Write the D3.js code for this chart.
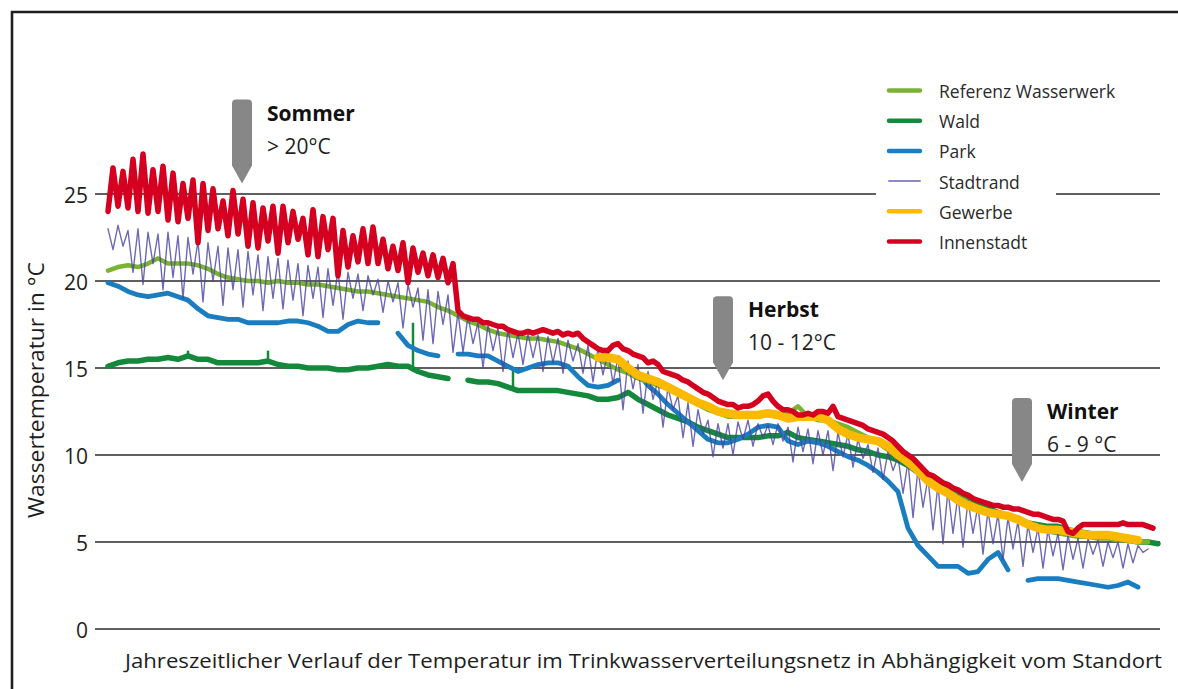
<!DOCTYPE html>
<html>
<head>
<meta charset="utf-8">
<script src="https://cdn.jsdelivr.net/npm/d3@7"></script>
<style>
  body { margin: 0; background: #fff; }
  svg { display: block; font-family: "Open Sans", "Noto Sans", sans-serif; }
</style>
</head>
<body>
<svg width="1178" height="689"></svg>
<script>
// y-Achse
const yTicks = [0, 5, 10, 15, 20, 25];

// Messreihen: x in Messtagen (0..211), Werte in °C, null = Lücke
// glatte Reihen: alle 2 Tage ab Tag 0
const referenz = [20.6, 20.8, 20.9, 20.8, 21.0, 21.3, 21.0, 21.0, 21.0, 20.9, 20.7, 20.4, 20.2, 20.1, 20.0, 20.0, 19.9, 20.0, 19.9, 19.9,
  19.8, 19.8, 19.7, 19.6, 19.5, 19.4, 19.4, 19.3, 19.2, 19.1, 19.0, 18.9, 18.8, 18.5, 18.3, 18.0, 17.7, 17.5, 17.2, 17.0,
  16.9, 16.8, 16.7, 16.7, 16.6, 16.5, 16.3, 16.1, 15.8, 15.5, 15.2, 14.9, 14.7, 14.4, 14.2, 14.0, 13.8, 13.5, 13.2, 12.9,
  12.6, 12.4, 12.2, 12.2, 12.3, 12.4, 12.3, 12.2, 12.4, 12.8, 12.2, 12.0, 12.0, 11.8, 11.6, 11.3, 11.0, 10.7, 10.3, 9.9,
  9.5, 9.0, 8.5, 8.2, 7.9, 7.6, 7.3, 7.0, 6.8, 6.6, 6.4, 6.2, 6.0, 5.8, 5.6, 5.5, 5.4, 5.3, 5.3, 5.2,
  5.2, 5.1, 5.1, 5.0, 5.0];

const wald = [15.1, 15.3, 15.4, 15.4, 15.5, 15.5, 15.6, 15.5, 15.7, 15.5, 15.5, 15.3, 15.3, 15.3, 15.3, 15.3, 15.4, 15.2, 15.1, 15.1,
  15.0, 15.0, 15.0, 14.9, 14.9, 15.0, 15.0, 15.1, 15.2, 15.1, 15.1, 14.8, 14.6, 14.5, 14.4, null, 14.3, 14.2, 14.2, 14.1,
  13.9, 13.7, 13.7, 13.7, 13.7, 13.7, 13.6, 13.5, 13.4, 13.2, 13.2, 13.3, 13.6, 13.2, 12.9, 12.6, 12.3, 12.1, 11.9, 11.6,
  11.4, 11.2, 11.0, 11.0, 11.0, 11.0, 11.1, 11.1, 11.3, 11.0, 10.9, 10.8, 10.7, 10.6, 10.5, 10.3, 10.2, 10.0, 9.9, 9.7,
  9.4, 9.0, 8.6, 8.3, 8.0, 7.7, 7.4, 7.1, 6.9, 6.7, 6.5, 6.3, 6.1, 6.0, 5.9, 5.9, 5.7, 5.6, 5.5, 5.4,
  5.3, 5.2, 5.1, 5.0, 5.0, 4.9];
// einzelne Ausreißer der Reihe Wald: [Tag, °C]
const waldSpitzen = [[16, 16.0], [32, 16.0], [61, 17.6], [81, 14.9]];

const park = [19.9, 19.7, 19.4, 19.2, 19.1, 19.2, 19.3, 19.1, 18.9, 18.4, 18.0, 17.9, 17.8, 17.8, 17.6, 17.6, 17.6, 17.6, 17.7, 17.7,
  17.6, 17.4, 17.1, 17.1, 17.5, 17.7, 17.6, 17.6, null, 17.0, 16.3, 16.0, 15.8, 15.7, null, 15.8, 15.8, 15.7, 15.7, 15.4,
  15.1, 14.8, 15.0, 15.2, 15.3, 15.3, 15.1, 14.5, 14.0, 13.9, 14.0, 14.3, null, 14.7, 14.0, 13.5, 12.9, 12.4, 11.9, 11.4,
  10.9, 10.7, 10.7, 10.9, 11.2, 11.6, 11.7, 11.6, 10.8, 10.6, 10.8, 10.7, 10.5, 10.2, 9.9, 9.7, 9.4, 9.0, 8.5, 7.9,
  5.8, 4.8, 4.2, 3.6, 3.6, 3.6, 3.2, 3.3, 4.0, 4.4, 3.4, null, 2.8, 2.9, 2.9, 2.9, 2.8, 2.7, 2.6, 2.5,
  2.4, 2.5, 2.7, 2.4];

// Gewerbe: alle 2 Tage ab Tag 98
const gewerbe = [15.6, 15.6, 15.5, 15.0, 14.6, 14.4, 14.2, 13.9, 13.6, 13.3, 13.0, 12.8, 12.5, 12.4, 12.3, 12.3, 12.3, 12.4, 12.3, 12.1,
  12.2, 12.2, 12.2, 12.0, 11.5, 11.2, 11.0, 10.9, 10.8, 10.5, 10.0, 9.6, 9.1, 8.5, 8.1, 7.8, 7.4, 7.1, 6.9, 6.7,
  6.6, 6.5, 6.3, 6.0, 5.8, 5.7, 5.7, 5.6, 5.5, 5.4, 5.4, 5.4, 5.3, 5.2, 5.1];

// unruhige Reihen: jeden Tag ab Tag 0
const stadtrand = [23.0, 21.8, 23.2, 22.0, 22.9,
  20.5, 23.0, 19.8, 22.8, 21.0, 22.7, 19.5,
  22.8, 20.2, 22.6, 19.0, 22.5, 20.4, 22.3,
  18.8, 22.2, 20.0, 22.0, 18.6, 21.9, 19.5, 21.8, 18.5, 21.7,
  19.2, 21.5, 18.3, 21.4, 19.0, 21.3, 18.4, 21.2, 18.9, 21.0,
  18.0, 20.9, 19.0, 20.8, 17.9, 20.7, 18.6, 20.6, 17.8, 20.5,
  19.0, 20.4, 18.3, 20.3, 19.2, 20.1,
  18.2, 20.0, 18.8, 19.9, 17.3, 19.8, 18.5, 19.6, 16.6, 19.5, 16.4, 19.4, 17.5, 19.2,
  15.9, 18.2, 15.9, 18.0,
  16.4, 17.6, 15.0, 17.5, 16.0, 17.3, 14.8, 17.2, 15.6, 17.0,
  15.2, 17.0, 15.6, 16.9, 14.8, 16.8, 15.3, 16.7, 14.7, 16.6, 15.4,
  16.4, 14.7, 16.3, 14.2, 16.1, 14.6, 16.0,
  14.1, 15.6, 12.6, 15.4, 13.8, 15.2, 12.4, 14.8,
  13.2, 14.3, 11.6, 13.9, 12.6, 13.4, 11.0, 13.0, 10.5, 12.6,
  11.2, 12.0, 9.9, 11.8, 10.4, 11.8, 10.0, 11.9,
  10.9, 12.0, 10.5, 11.8, 11.0, 11.7, 10.6, 11.8, 10.8, 11.6,
  9.6, 11.6, 10.2, 11.5, 9.5, 11.4, 10.0,
  11.4, 9.1, 11.3, 9.9, 11.2, 9.3, 10.9, 9.8, 10.6,
  9.0, 10.4, 8.6, 10.2, 9.1, 9.9, 7.8,
  9.6, 6.4, 9.2, 7.0, 8.7, 5.7, 8.3, 4.9, 8.0,
  5.5, 7.7, 4.7, 7.4, 5.5, 7.1, 4.3, 6.8, 4.9, 6.6,
  4.0, 6.4, 4.6, 6.2, 3.6, 6.0, 4.4, 5.8, 3.5, 5.7,
  4.2, 5.5, 3.4, 5.4, 4.0, 5.2, 3.5, 5.2, 4.3, 5.1,
  3.6, 5.0, 4.1, 5.0, 3.5, 4.9, 3.8, 4.8, 4.4, 4.6];

const innenstadt = [24.0, 26.5, 24.3, 26.3, 24.2, 27.0, 24.0, 27.3, 23.9, 26.4,
  24.0, 26.6, 23.5, 26.2, 23.4, 25.6, 23.6, 25.8, 22.2, 25.6,
  22.9, 25.3, 23.0, 24.6, 22.6, 25.2, 22.7, 24.7, 22.0, 24.5,
  21.9, 24.2, 22.3, 24.3, 21.6, 24.3, 22.2, 24.0, 22.4, 23.6,
  21.5, 24.1, 21.4, 23.7, 21.8, 23.6, 20.3, 22.9, 20.8, 22.6,
  21.1, 23.0, 21.0, 23.1, 21.0, 22.4, 20.7, 22.0, 20.6, 22.2,
  19.9, 21.9, 20.5, 21.6, 20.3, 21.5, 20.2, 21.3, 19.9, 21.0,
  18.3, 18.0, 17.9, 17.8, 17.8, 17.6, 17.6, 17.5, 17.4, 17.4,
  17.2, 17.1, 17.0, 17.0, 17.1, 17.0, 17.1, 17.2, 17.1, 17.0,
  17.1, 16.9, 17.0, 16.9, 17.0, 16.7, 16.5, 16.3, 16.1, 16.0,
  16.0, 16.3, 16.4, 16.1, 16.0, 15.8, 15.7, 15.6, 15.3, 15.4,
  15.2, 14.8, 14.7, 14.6, 14.5, 14.3, 14.2, 14.0, 13.8, 13.6,
  13.5, 13.3, 13.1, 13.0, 12.9, 12.9, 12.7, 12.8, 12.8, 12.9,
  13.1, 13.4, 13.5, 13.1, 12.8, 12.6, 12.6, 12.5, 12.3, 12.3,
  12.4, 12.3, 12.5, 12.5, 12.4, 12.8, 12.2, 12.1, 12.0, 11.9,
  11.8, 11.7, 11.5, 11.4, 11.3, 11.2, 11.0, 10.8, 10.5, 10.2,
  10.0, 9.8, 9.5, 9.2, 8.9, 8.8, 8.6, 8.4, 8.3, 8.1,
  8.0, 7.8, 7.7, 7.5, 7.4, 7.3, 7.2, 7.1, 7.1, 7.0,
  7.0, 6.9, 6.9, 6.8, 6.7, 6.6, 6.6, 6.5, 6.4, 6.3,
  6.3, 6.2, 5.6, 5.5, 5.8, 6.0, 6.0, 6.0, 6.0, 6.0,
  6.0, 6.0, 6.0, 6.1, 6.0, 6.0, 6.0, 6.0, 5.9, 5.8];

// Jahreszeiten-Markierungen
const saisonNamen = ["Sommer", "Herbst", "Winter"];
const saisonBereich = ["> 20°C", "10 - 12°C", "6 - 9 °C"];
const saisonTag = [26.8, 123, 182.8];
const saisonTemp = [25.6, 14.3, 8.45];

const legendNamen = ["Referenz Wasserwerk", "Wald", "Park", "Stadtrand", "Gewerbe", "Innenstadt"];

let svg = d3.select("svg");

var x = d3.scaleLinear().domain([0, 211]).range([108, 1163]);
var y = d3.scaleLinear().domain([0, 25]).range([629, 194]);

function punkte(start, step, werte) {
    return werte.map(function(v, i) { return {t: start + i * step, v: v}; });
}

// Rahmen
svg.append("path")
    .attr("d", "M12,689V12H1178")
    .attr("fill", "none")
    .attr("stroke", "#1e1e1e")
    .attr("stroke-width", 2.6)

// Gitterlinien + Beschriftung
svg.selectAll("line.grid")
    .data(yTicks)
    .enter()
    .append("line")
    .attr("class", "grid")
    .attr("x1", 95)
    .attr("x2", 1160)
    .attr("y1", function(d) { return y(d); })
    .attr("y2", function(d) { return y(d); })
    .attr("stroke", "#2a2a2a")
    .attr("stroke-width", 1.4)

svg.selectAll("text.tick")
    .data(yTicks)
    .enter()
    .append("text")
    .attr("class", "tick")
    .attr("x", 88)
    .attr("y", function(d) { return y(d) + 1; })
    .attr("text-anchor", "end")
    .attr("dominant-baseline", "central")
    .style("font-size", "21px")
    .attr("fill", "#1e1e1e")
    .text(function(d) { return d; })

svg.append("text")
    .attr("transform", "translate(44,390) rotate(-90)")
    .attr("text-anchor", "middle")
    .attr("textLength", 256)
    .attr("lengthAdjust", "spacingAndGlyphs")
    .style("font-size", "22px")
    .attr("fill", "#1e1e1e")
    .text("Wassertemperatur in °C")

svg.append("text")
    .attr("x", 125)
    .attr("y", 668)
    .attr("textLength", 1037)
    .attr("lengthAdjust", "spacingAndGlyphs")
    .style("font-size", "20px")
    .attr("fill", "#1e1e1e")
    .text("Jahreszeitlicher Verlauf der Temperatur im Trinkwasserverteilungsnetz in Abhängigkeit vom Standort")

// Legende (weißer Hintergrund unterbricht die 25er-Linie)
svg.append("rect")
    .attr("x", 876)
    .attr("y", 72)
    .attr("width", 180)
    .attr("height", 186)
    .attr("fill", "#fff")

var legendFarben = ["#7bb236", "#158a3c", "#1a7fc4", "#8e88c8", "#fbb900", "#d5001f"];
var legendBreite = [4.5, 4.5, 4.5, 2, 4.5, 4.5];

svg.selectAll("line.leg")
    .data(legendNamen)
    .enter()
    .append("line")
    .attr("class", "leg")
    .attr("x1", 889)
    .attr("x2", 920)
    .attr("y1", function(d, i) { return 90.5 + i * 30.2; })
    .attr("y2", function(d, i) { return 90.5 + i * 30.2; })
    .attr("stroke", function(d, i) { return legendFarben[i]; })
    .attr("stroke-width", function(d, i) { return legendBreite[i]; })
    .attr("stroke-linecap", "round")

svg.selectAll("text.leg")
    .data(legendNamen)
    .enter()
    .append("text")
    .attr("class", "leg")
    .attr("x", 939)
    .attr("y", function(d, i) { return 91 + i * 30.2; })
    .attr("dominant-baseline", "central")
    .style("font-size", "17.5px")
    .attr("fill", "#2a2a2a")
    .text(function(d) { return d; })

// Messreihen
var serien = [
    {name: "Wald", data: punkte(0, 2, wald), color: "#14893b", w: 5.5},
    {name: "Park", data: punkte(0, 2, park), color: "#1a7dc0", w: 4.8},
    {name: "Referenz Wasserwerk", data: punkte(0, 2, referenz), color: "#79b32f", w: 4.5},
    {name: "Stadtrand", data: punkte(0, 1, stadtrand), color: "#4a42a0", w: 1.4},
    {name: "Gewerbe", data: punkte(98, 2, gewerbe), color: "#fbb900", w: 8.5},
    {name: "Innenstadt", data: punkte(0, 1, innenstadt), color: "#d5001f", w: 5.5}
];

var line = d3.line()
    .defined(function(d) { return d.v != null; })
    .x(function(d) { return x(d.t); })
    .y(function(d) { return y(d.v); });

svg.selectAll("path.serie")
    .data(serien)
    .enter()
    .append("path")
    .attr("class", "serie")
    .attr("d", function(d) { return line(d.data); })
    .attr("fill", "none")
    .attr("stroke", function(d) { return d.color; })
    .attr("stroke-width", function(d) { return d.w; })
    .attr("stroke-opacity", function(d) { return d.name == "Stadtrand" ? 0.8 : 1; })
    .attr("stroke-linejoin", "round")
    .attr("stroke-linecap", "round")

// Wald-Ausreißer als senkrechte Striche
svg.selectAll("line.spitze")
    .data(waldSpitzen)
    .enter()
    .insert("line", "path.serie:nth-of-type(3)")
    .attr("class", "spitze")
    .attr("x1", function(d) { return x(d[0]); })
    .attr("x2", function(d) { return x(d[0]); })
    .attr("y1", function(d) { return y(d[1]); })
    .attr("y2", function(d) { return y(wald[Math.round(d[0] / 2)]); })
    .attr("stroke", "#14893b")
    .attr("stroke-width", 2.5)

// Jahreszeiten-Pfeile
var pfeil = svg.selectAll("g.saison")
    .data(saisonNamen)
    .enter()
    .append("g")
    .attr("class", "saison")
    .attr("transform", function(d, i) { return "translate(" + x(saisonTag[i]) + "," + y(saisonTemp[i]) + ")"; })

pfeil.append("path")
    .attr("d", "M-10,-18V-80Q-10,-84,-6,-84H6Q10,-84,10,-80V-18L0,0Z")
    .attr("fill", "#878787")

pfeil.append("text")
    .attr("x", 25)
    .attr("y", -63)
    .style("font-size", "21px")
    .style("font-weight", "bold")
    .attr("fill", "#111")
    .text(function(d) { return d; })

pfeil.append("text")
    .attr("x", 25)
    .attr("y", -30)
    .style("font-size", "21px")
    .attr("fill", "#1e1e1e")
    .text(function(d, i) { return saisonBereich[i]; })
</script>
</body>
</html>
